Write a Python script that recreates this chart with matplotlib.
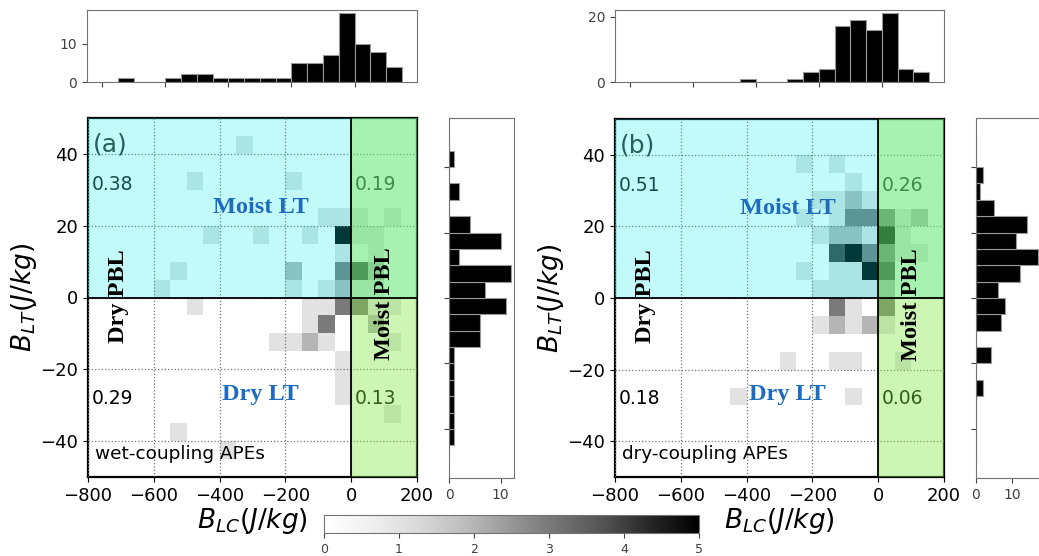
import numpy as np
import matplotlib
matplotlib.use('Agg')
import matplotlib.pyplot as plt

# 2D 分布: 格子左边界 x, 下边界 y, 个数
wet_x = [-350, -500, -200, -100, -50, 0, 100, -450, -300, -150, -50, 0, 50, -50, 50,
         -550, -200, -50, 0, 50, -600, -200, -100, -50, 0, 50,
         -500, -150, -100, -50, 0, 50, 100, -150, -100, 50,
         -250, -200, -150, -100, 100, -50, -50, -50, 100, -550, -400]
wet_y = [40, 30, 30, 20, 20, 20, 20, 15, 15, 15, 15, 15, 15, 10, 10,
         5, 5, 5, 5, 5, 0, 0, 0, 0, 0, 0,
         -5, -5, -5, -5, -5, -5, -5, -10, -10, -10,
         -15, -15, -15, -15, -15, -20, -25, -30, -35, -40, -45]
wet_n = [1, 1, 1, 1, 1, 1, 1, 1, 1, 1, 5, 1, 1, 1, 1,
         1, 2, 3, 4, 2, 1, 1, 1, 2, 1, 1,
         1, 1, 1, 3, 3, 1, 1, 1, 3, 2,
         1, 1, 2, 1, 1, 1, 1, 1, 1, 1, 1]

dry_x = [-250, -150, -100, -200, -150, -100, -50,
         -250, -150, -100, -50, 0, 50, 100,
         -200, -150, -100, -50, 0, 50,
         -150, -100, -50, 0, 50, 100,
         -250, -150, -100, -50, 0,
         -200, -150, -100, -50, 0,
         -150, -100, 0,
         -200, -150, -100, -50, 0,
         -300, -150, -100, 50, -450, -100]
dry_y = [35, 35, 30, 25, 25, 25, 25,
         20, 20, 20, 20, 20, 20, 20,
         15, 15, 15, 15, 15, 15,
         10, 10, 10, 10, 10, 10,
         5, 5, 5, 5, 5,
         0, 0, 0, 0, 0,
         -5, -5, -5,
         -10, -10, -10, -10, -10,
         -20, -20, -20, -20, -30, -30]
dry_n = [1, 1, 1, 1, 1, 2, 1,
         1, 1, 3, 3, 3, 1, 2,
         1, 2, 2, 1, 5, 1,
         4, 5, 3, 3, 1, 1,
         1, 1, 1, 5, 4,
         1, 1, 1, 1, 2,
         3, 1, 3,
         1, 2, 1, 2, 1,
         1, 1, 1, 1, 1, 1]

# 边缘直方图
lc_bins = np.arange(-800, 151, 50)
wet_lc = [0, 1, 0, 0, 1, 2, 2, 1, 1, 1, 1, 1, 5, 5, 7, 18, 10, 8, 4]
dry_lc = [0, 0, 0, 0, 0, 0, 0, 1, 0, 0, 1, 3, 4, 17, 19, 16, 21, 4, 3]
lt_bins = np.arange(-50, 51, 5)
wet_lt = [0, 1, 1, 1, 1, 1, 1, 6, 6, 11, 7, 12, 2, 10, 4, 0, 2, 0, 1, 0]
dry_lt = [0, 0, 0, 0, 2, 0, 4, 0, 7, 8, 6, 12, 17, 11, 14, 5, 1, 2, 0, 0]

fracs_a = ['0.38', '0.19', '0.29', '0.13']
fracs_b = ['0.51', '0.26', '0.18', '0.06']

W, H = 1039, 556
fig = plt.figure(figsize=(W / 100, H / 100), dpi=100)


def box(l, t, r, b):
    return [l / W, 1 - b / H, (r - l) / W, (b - t) / H]


serif = 'Liberation Serif'
blue = '#1f6cbf'
xedges = np.arange(-800, 201, 50)
yedges = np.arange(-50, 51, 5)


def main_panel(ax, cx, cy, cn, tag, fr, name):
    im = ax.hist2d(np.array(cx) + 25, np.array(cy) + 2.5, bins=[xedges, yedges],
                   weights=cn, cmap='Greys', vmin=0, vmax=5, cmin=0.5, zorder=1)[3]
    ax.axhspan(0, 50, color=(0.0, 0.93, 0.93), alpha=0.24, lw=0, zorder=4)
    ax.axvspan(0, 200, color=(0.51, 0.9, 0.27), alpha=0.4, lw=0, zorder=4)
    ax.axhline(0, color='k', lw=1.3, zorder=5)
    ax.axvline(0, color='k', lw=1.3, zorder=5)
    ax.set_xlim(-800, 200)
    ax.set_ylim(-50, 50)
    ax.set_xticks(np.arange(-800, 201, 200))
    ax.set_yticks(np.arange(-40, 41, 20))
    ax.grid(True, ls=':', color='0.45', lw=0.9)
    ax.set_axisbelow(False)
    ax.tick_params(labelsize=13)
    for s in ax.spines.values():
        s.set_linewidth(1.6)
    ax.text(-785, 42.5, tag, fontsize=18, color='0.2', va='center', zorder=3)
    ax.text(-790, 31.5, fr[0], fontsize=13.5, color='0.1', va='center', zorder=3)
    ax.text(10, 31.5, fr[1], fontsize=13.5, color='0.1', va='center', zorder=3)
    ax.text(-790, -28, fr[2], fontsize=13.5, color='k', va='center', zorder=3)
    ax.text(10, -28, fr[3], fontsize=13.5, color='k', va='center', zorder=3)
    ax.text(-275, 25, 'Moist LT', fontsize=17.5, fontweight='bold', family=serif,
            color=blue, ha='center', va='center', zorder=6)
    ax.text(-275, -27, 'Dry LT', fontsize=17.5, fontweight='bold', family=serif,
            color=blue, ha='center', va='center', zorder=6)
    ax.text(-706, 0.5, 'Dry PBL', fontsize=17.5, fontweight='bold', family=serif,
            rotation=90, ha='center', va='center', zorder=6)
    ax.text(100, -1.8, 'Moist PBL', fontsize=17.5, fontweight='bold', family=serif,
            rotation=90, ha='center', va='center', zorder=6)
    ax.text(-780, -43.5, name, fontsize=13.3, va='center', zorder=6)
    ax.set_xlabel('$B_{LC}(J/kg)$', fontsize=19, labelpad=1)
    ax.set_ylabel('$B_{LT}(J/kg)$', fontsize=19, labelpad=1)
    return im


def top_hist(ax, counts, ytop, yt):
    ax.hist(lc_bins[:-1] + 25, bins=lc_bins, weights=counts, color='k',
            edgecolor='0.6', lw=0.8)
    ax.set_xlim(-847.5, 197.5)
    ax.set_ylim(0, ytop * 1.05)
    ax.set_xticks(np.arange(-800, 1, 200))
    ax.set_xticklabels([])
    ax.set_yticks([0, yt])
    ax.tick_params(labelsize=10, colors='0.25')
    for s in ax.spines.values():
        s.set_color('0.45')


def side_hist(ax, counts, xtop):
    ax.hist(lt_bins[:-1] + 2.5, bins=lt_bins, weights=counts, color='k',
            edgecolor='0.6', lw=0.8, orientation='horizontal')
    ax.set_ylim(-55, 55)
    ax.set_xlim(0, xtop * 1.05)
    ax.set_yticks(np.arange(-40, 41, 20))
    ax.set_yticklabels([])
    ax.set_xticks([0, 10])
    ax.tick_params(labelsize=10, colors='0.25')
    for s in ax.spines.values():
        s.set_color('0.45')


ax_a = fig.add_axes(box(88, 118, 417, 477))
im = main_panel(ax_a, wet_x, wet_y, wet_n, '(a)', fracs_a, 'wet-coupling APEs')
ax_b = fig.add_axes(box(615, 119, 944, 477))
main_panel(ax_b, dry_x, dry_y, dry_n, '(b)', fracs_b, 'dry-coupling APEs')

top_hist(fig.add_axes(box(87, 10, 417, 82)), wet_lc, max(wet_lc), 10)
top_hist(fig.add_axes(box(615, 10, 944, 82)), dry_lc, max(dry_lc), 20)
side_hist(fig.add_axes(box(449, 118, 514, 478)), wet_lt, max(wet_lt))
side_hist(fig.add_axes(box(976, 118, 1041, 478)), dry_lt, max(dry_lt))

cax = fig.add_axes(box(324, 515, 699, 533))
cb = fig.colorbar(im, cax=cax, orientation='horizontal', ticks=range(6))
cb.outline.set_edgecolor('0.45')
cax.tick_params(labelsize=9, colors='0.25')

fig.savefig('out.png', dpi=100)
